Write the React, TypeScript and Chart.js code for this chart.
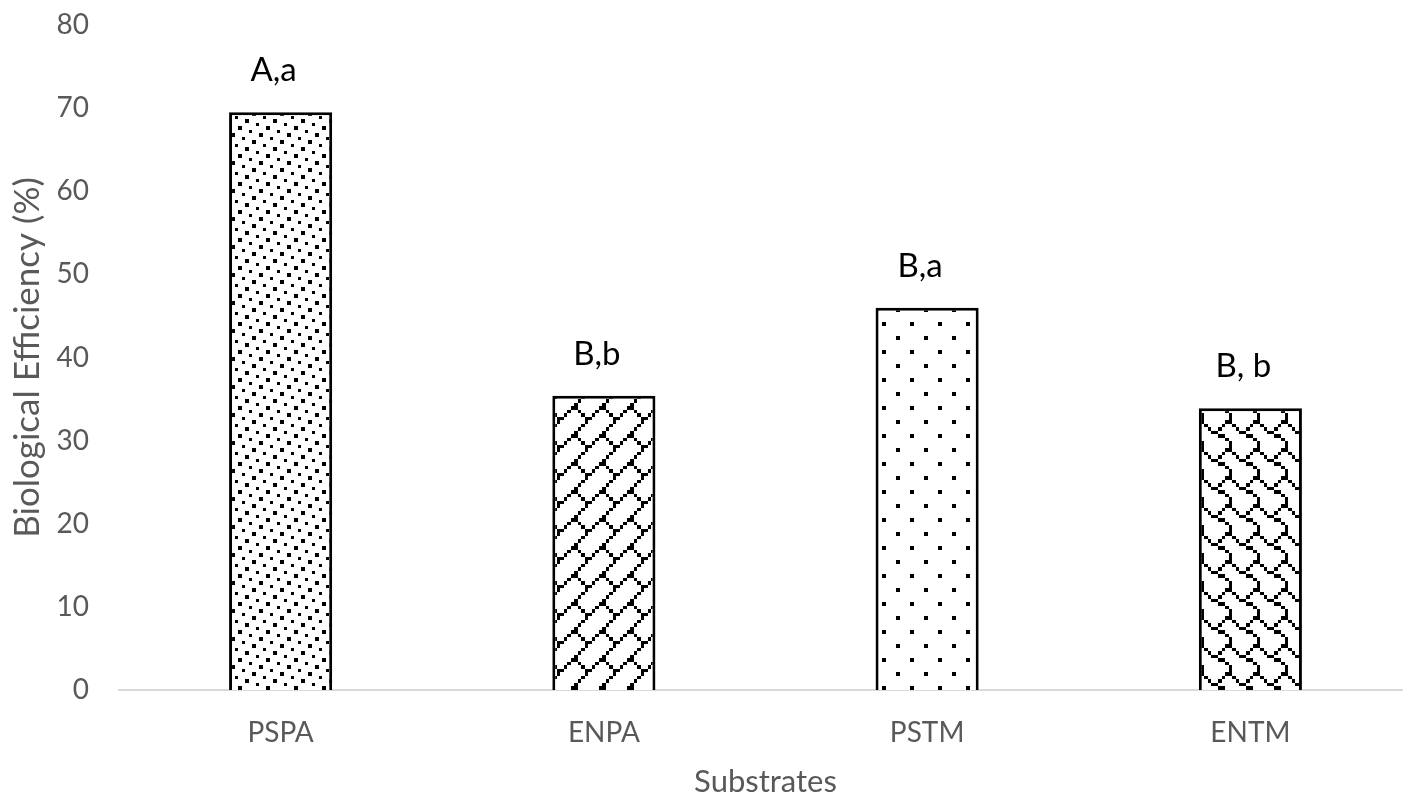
import React, { useEffect, useRef } from "react";
import { Chart, registerables } from "chart.js";

Chart.register(...registerables);

// ---- data ----
const categories = ["PSPA", "ENPA", "PSTM", "ENTM"];
const efficiency = [69.5, 35.4, 46.0, 33.9];
const significance = ["A,a", "B,b", "B,a", "B, b"];
const yMin = 0;
const yMax = 80;
const yStep = 10;
const xTitle = "Substrates";
const yTitle = "Biological Efficiency (%)";

// 8x8 hatch bitmaps (0x80 = leftmost pixel)
const densePattern = [0x80, 0x10, 0x02, 0x40, 0x08, 0x01, 0x20, 0x04];
const brickPattern = [0x01, 0x02, 0x04, 0x08, 0x18, 0x24, 0x42, 0x81];
const sparsePattern = [0x80, 0x00, 0x00, 0x00, 0x08, 0x00, 0x00, 0x00];
const shinglePattern = [0x03, 0x84, 0x48, 0x30, 0x0c, 0x02, 0x01, 0x01];

const FONT = "Lato, 'Open Sans', sans-serif";
const GREY = "#595959";

function makePattern(ctx: CanvasRenderingContext2D, bits: number[]): CanvasPattern | string {
  const scale = 3.5;
  const size = 28;
  const c = document.createElement("canvas");
  c.width = size;
  c.height = size;
  const g = c.getContext("2d")!;
  g.fillStyle = "#ffffff";
  g.fillRect(0, 0, size, size);
  g.fillStyle = "#000000";
  for (let r = 0; r < 8; r++) {
    for (let x = 0; x < 8; x++) {
      if (bits[r] & (0x80 >> x)) {
        const x0 = Math.round(x * scale);
        const x1 = Math.round((x + 1) * scale);
        const y0 = Math.round(r * scale);
        const y1 = Math.round((r + 1) * scale);
        g.fillRect(x0, y0, x1 - x0, y1 - y0);
      }
    }
  }
  return ctx.createPattern(c, "repeat") || "#ffffff";
}

const labelPlugin = {
  id: "sigLabels",
  afterDatasetsDraw(chart: any) {
    const ctx = chart.ctx as CanvasRenderingContext2D;
    const meta = chart.getDatasetMeta(0);
    ctx.save();
    ctx.font = `33px ${FONT}`;
    ctx.fillStyle = "#000000";
    ctx.textAlign = "center";
    ctx.textBaseline = "alphabetic";
    meta.data.forEach((bar: any, i: number) => {
      ctx.fillText(significance[i], bar.x - 7, bar.y - 31);
    });
    ctx.restore();
  },
};

export default function App() {
  const ref = useRef<HTMLCanvasElement | null>(null);

  useEffect(() => {
    const canvas = ref.current;
    if (!canvas) return;
    const ctx = canvas.getContext("2d")!;
    const fills = [
      makePattern(ctx, densePattern),
      makePattern(ctx, brickPattern),
      makePattern(ctx, sparsePattern),
      makePattern(ctx, shinglePattern),
    ];
    const chart = new Chart(canvas, {
      type: "bar",
      data: {
        labels: categories,
        datasets: [
          {
            data: efficiency,
            backgroundColor: fills as any,
            borderColor: "#000000",
            borderWidth: 3,
            borderSkipped: "bottom",
            barPercentage: 0.319,
            categoryPercentage: 1,
          },
        ],
      },
      options: {
        responsive: false,
        animation: false,
        devicePixelRatio: 1,
        layout: { padding: { top: 25, left: 0, right: 8, bottom: 0 } },
        plugins: {
          legend: { display: false },
          tooltip: { enabled: false },
        },
        scales: {
          x: {
            grid: { display: false, drawTicks: false },
            border: { display: true, color: "#d9d9d9", width: 2 },
            ticks: { color: GREY, font: { family: FONT, size: 28 }, padding: 26 },
            title: {
              display: true,
              text: xTitle,
              color: GREY,
              font: { family: FONT, size: 31, lineHeight: 1.0 },
              padding: { top: 0, bottom: 0 },
            },
            afterFit: (s: any) => {
              s.height = 107;
            },
          },
          y: {
            min: yMin,
            max: yMax,
            ticks: {
              stepSize: yStep,
              color: GREY,
              font: { family: FONT, size: 28 },
              padding: 30,
            },
            grid: { display: false, drawTicks: false },
            border: { display: false },
            title: {
              display: true,
              text: yTitle,
              color: GREY,
              font: { family: FONT, size: 35 },
              padding: { top: 7, bottom: 0 },
            },
            afterFit: (s: any) => {
              s.width = 119;
              s.paddingTop = 0;
              s.paddingBottom = 0;
            },
          },
        },
      },
      plugins: [labelPlugin],
    });
    return () => chart.destroy();
  }, []);

  return (
    <div
      style={{
        position: "fixed",
        left: 0,
        top: 0,
        width: 1403,
        height: 797,
        overflow: "hidden",
        background: "#ffffff",
      }}
    >
      <canvas ref={ref} width={1420} height={797} style={{ display: "block" }} />
    </div>
  );
}
